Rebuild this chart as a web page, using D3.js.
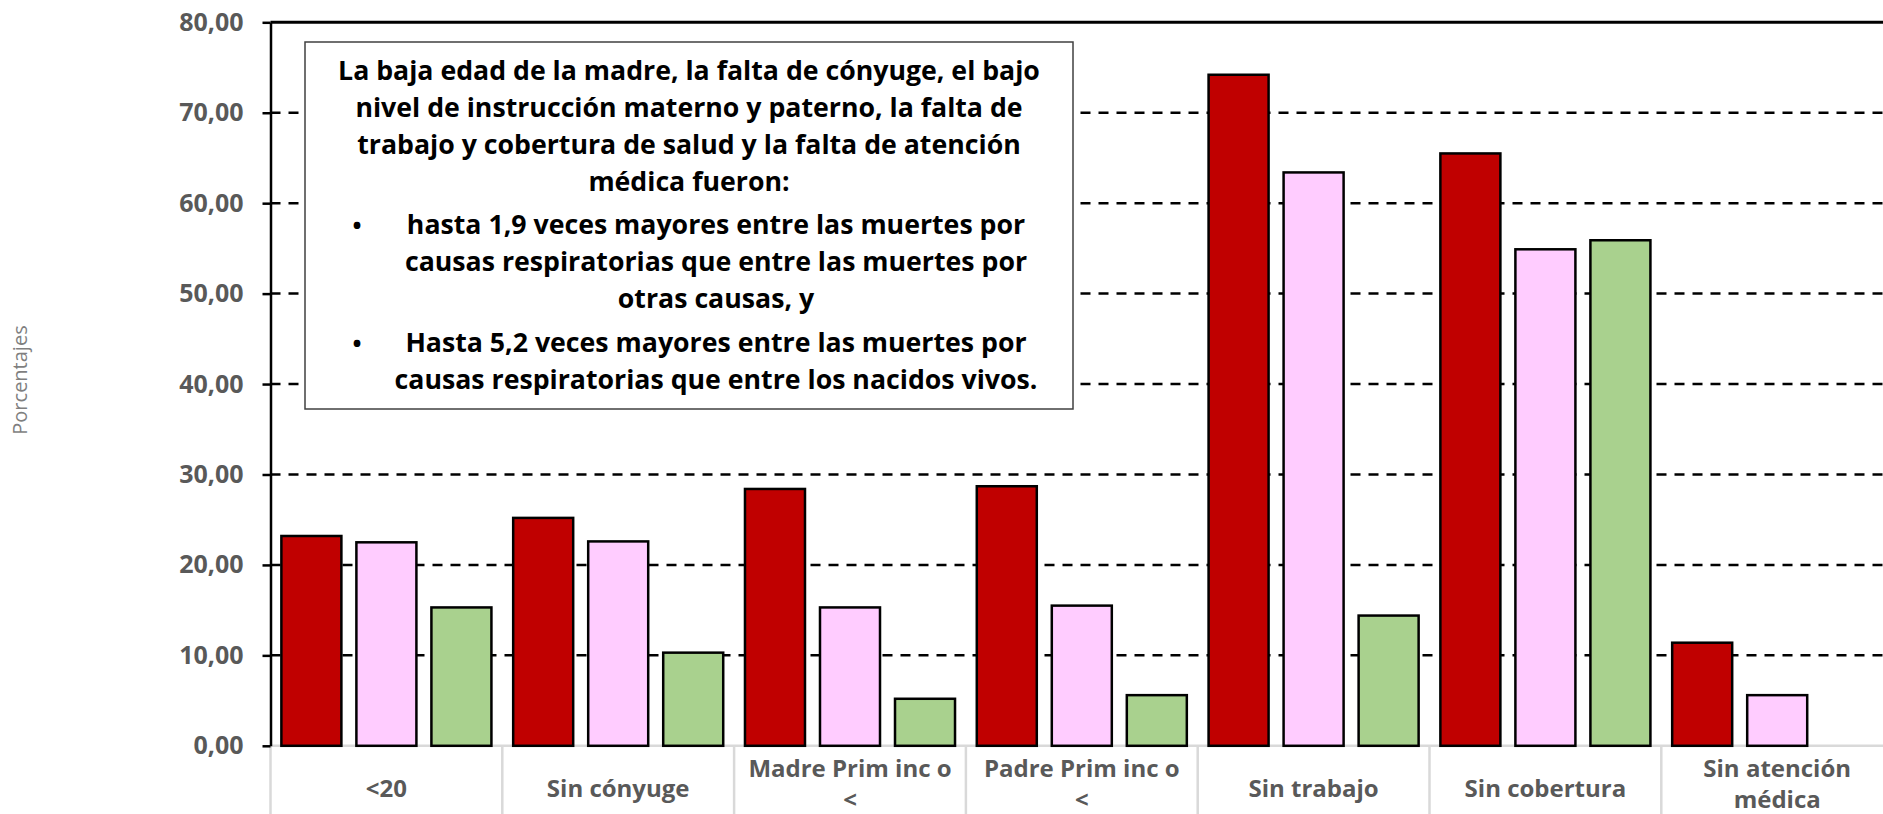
<!DOCTYPE html>
<html>
<head>
<meta charset="utf-8">
<script src="https://cdn.jsdelivr.net/npm/d3@7"></script>
<style>
body { margin: 0; background: #fff; }
svg { display: block; font-family: "Open Sans", sans-serif; }
</style>
</head>
<body>
<svg id="chart" width="1883" height="814"></svg>
<script>
var categories = ["<20", "Sin cónyuge", "Madre Prim inc o\n<", "Padre Prim inc o\n<", "Sin trabajo", "Sin cobertura", "Sin atención\nmédica"]
var respiratorias = [23.2, 25.2, 28.4, 28.7, 74.2, 65.5, 11.4]
var otrasCausas = [22.5, 22.6, 15.3, 15.5, 63.4, 54.9, 5.6]
var nacidosVivos = [15.3, 10.3, 5.2, 5.6, 14.4, 55.9, null]
var seriesKeys = ["respiratorias", "otrasCausas", "nacidosVivos"]
var seriesColors = ["#C00000", "#FFCCFF", "#A9D18E"]
var yTicks = [0, 10, 20, 30, 40, 50, 60, 70, 80]
var yTitle = "Porcentajes"
var noteIntro = [
  "La baja edad de la madre, la falta de cónyuge, el bajo",
  "nivel de instrucción materno y paterno, la falta de",
  "trabajo y cobertura de salud y la falta de atención",
  "médica fueron:"
]
var noteBullets = [
  ["hasta 1,9 veces mayores entre las muertes por", "causas respiratorias que entre las muertes por", "otras causas, y"],
  ["Hasta 5,2 veces mayores entre las muertes por", "causas respiratorias que entre los nacidos vivos."]
]

var W = 1883, H = 814
var left = 270.5, step = 231.8
var svg = d3.select("#chart")

var x0 = d3.scaleBand().domain(categories).range([left, left + step * categories.length]).padding(0)
var x1 = d3.scaleBand().domain(seriesKeys).range([0, x0.bandwidth()]).paddingInner(0.2).paddingOuter(0.145)
var y = d3.scaleLinear().domain([0, 80]).range([745.8, 22.3])
var color = d3.scaleOrdinal().domain(seriesKeys).range(seriesColors)

var rows = categories.map(function (c, i) {
  return { cat: c, values: [
    { key: "respiratorias", value: respiratorias[i] },
    { key: "otrasCausas", value: otrasCausas[i] },
    { key: "nacidosVivos", value: nacidosVivos[i] }
  ] }
})

// gridlines (dashed), top one solid
svg.append("g")
  .selectAll("line")
  .data(yTicks.filter(function (t) { return t > 0 }))
  .enter()
  .append("line")
  .attr("x1", left)
  .attr("x2", W)
  .attr("y1", function (d) { return y(d) })
  .attr("y2", function (d) { return y(d) })
  .attr("stroke", "#000")
  .attr("stroke-width", function (d) { return d == 80 ? 3 : 2.5 })
  .attr("stroke-dasharray", function (d) { return d == 80 ? null : "10,8" })

// x axis: grey baseline and category separators
svg.append("line")
  .attr("x1", left).attr("x2", W)
  .attr("y1", y(0)).attr("y2", y(0))
  .attr("stroke", "#D9D9D9").attr("stroke-width", 2.5)

svg.append("g")
  .selectAll("line")
  .data(categories)
  .enter()
  .append("line")
  .attr("x1", function (d) { return x0(d) })
  .attr("x2", function (d) { return x0(d) })
  .attr("y1", y(0))
  .attr("y2", H)
  .attr("stroke", "#D9D9D9")
  .attr("stroke-width", 2.5)

// bars
svg.append("g")
  .selectAll("g")
  .data(rows)
  .enter()
  .append("g")
  .attr("transform", function (d) { return "translate(" + x0(d.cat) + ",0)" })
  .selectAll("rect")
  .data(function (d) { return d.values.filter(function (v) { return v.value != null }) })
  .enter()
  .append("rect")
  .attr("x", function (d) { return x1(d.key) })
  .attr("width", x1.bandwidth())
  .attr("y", function (d) { return y(d.value) })
  .attr("height", function (d) { return y(0) - y(d.value) })
  .attr("fill", function (d) { return color(d.key) })
  .attr("stroke", "#000")
  .attr("stroke-width", 2.5)

// y axis
var yAxis = d3.axisLeft(y)
  .tickValues(yTicks)
  .tickSize(8)
  .tickSizeOuter(0)
  .tickPadding(19)
  .tickFormat(function (d) { return d3.format(".2f")(d).replace(".", ",") })

var gy = svg.append("g")
  .attr("transform", "translate(" + left + ",0)")
  .call(yAxis)
gy.select(".domain").attr("stroke", "#000").attr("stroke-width", 2.5)
gy.selectAll(".tick line").attr("stroke", "#000").attr("stroke-width", 2.5)
gy.selectAll(".tick text")
  .attr("fill", "#595959")
  .attr("font-size", 25)
  .attr("font-weight", "bold")
  .attr("font-family", "'Open Sans', sans-serif")

// y title
svg.append("text")
  .attr("transform", "translate(27,380) rotate(-90)")
  .attr("text-anchor", "middle")
  .attr("font-size", 20)
  .attr("fill", "#7F7F7F")
  .text(yTitle)

// category labels (line breaks as in the original axis)
var gx = svg.append("g")
  .attr("fill", "#595959")
  .attr("font-size", 24)
  .attr("font-weight", "bold")
  .attr("text-anchor", "middle")

categories.forEach(function (c) {
  var cx = x0(c) + x0.bandwidth() / 2
  var lines = c.split("\n")
  var t = gx.append("text").attr("x", cx)
  lines.forEach(function (l, i) {
    t.append("tspan")
      .attr("x", cx)
      .attr("y", 797 - (lines.length - 1) * 20 + i * 31)
      .text(l)
  })
})

// annotation box
svg.append("rect")
  .attr("x", 305).attr("y", 42)
  .attr("width", 768).attr("height", 367)
  .attr("fill", "#fff")
  .attr("stroke", "#404040")
  .attr("stroke-width", 1.5)

var note = svg.append("g")
  .attr("font-size", 26.7)
  .attr("font-weight", "bold")
  .attr("fill", "#000")
  .attr("text-anchor", "middle")

var baselines = [80, 117, 154, 191]
noteIntro.forEach(function (l, i) {
  note.append("text").attr("x", 689).attr("y", baselines[i]).text(l)
})

var bulletTop = [234, 352]
noteBullets.forEach(function (b, j) {
  note.append("text").attr("x", 357).attr("y", bulletTop[j]).attr("font-size", 24).text("•")
  b.forEach(function (l, i) {
    note.append("text").attr("x", 716).attr("y", bulletTop[j] + i * 37).text(l)
  })
})
</script>
</body>
</html>
